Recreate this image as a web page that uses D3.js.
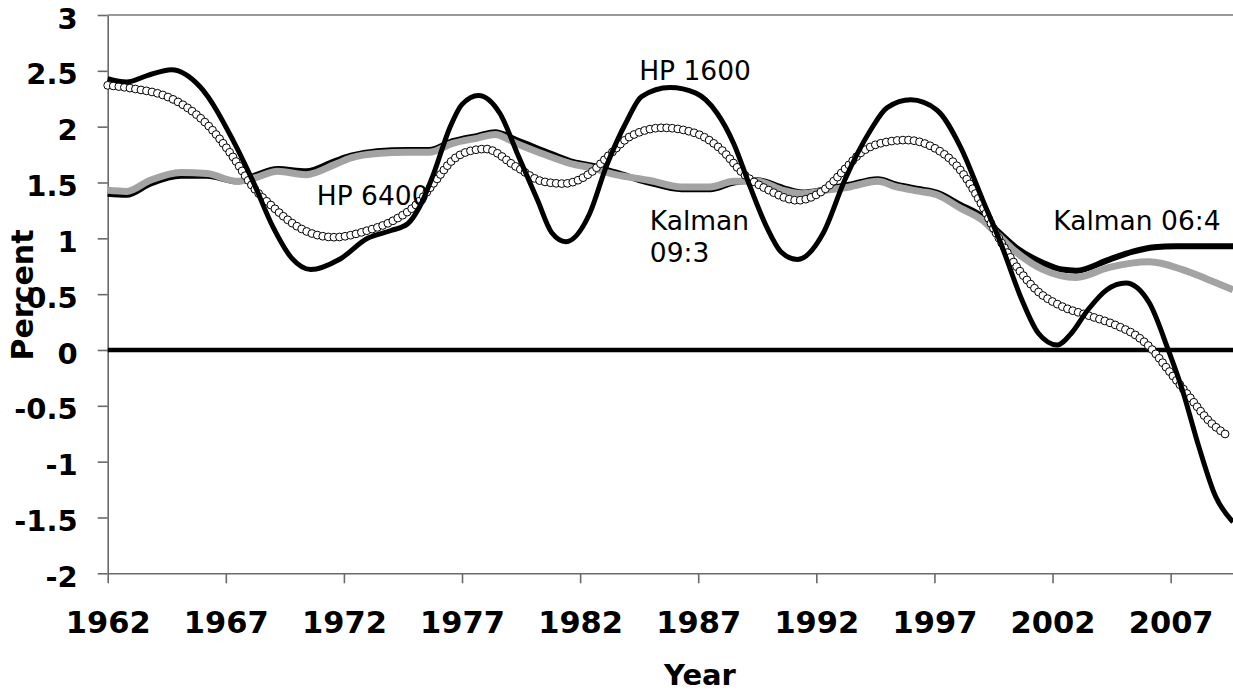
<!DOCTYPE html>
<html>
<head>
<meta charset="utf-8">
<script src="https://cdn.jsdelivr.net/npm/d3@7"></script>
<style>
  body { margin: 0; background: #fff; }
  text { font-family: "DejaVu Sans", Verdana, sans-serif; }
</style>
</head>
<body>
<script>
// values (year, percent)
const hp1600Years = [1962.0, 1962.8, 1963.7, 1964.7, 1965.9, 1967.3, 1968.15, 1969.0, 1969.8, 1970.6, 1971.8, 1973.0, 1974.0, 1974.7, 1975.2, 1975.8, 1976.5, 1977.0, 1977.7, 1978.6, 1979.4, 1980.2, 1980.8, 1981.4, 1982.4, 1983.1, 1984.0, 1984.6, 1985.8, 1986.9, 1987.8, 1988.5, 1989.2, 1989.9, 1990.5, 1991.2, 1992.3, 1993.2, 1994.3, 1995.0, 1996.0, 1997.1, 1998.1, 1999.05, 1999.8, 2000.7, 2001.4, 2002.2, 2002.8, 2003.5, 2004.3, 2005.1, 2006.1, 2006.9, 2007.5, 2008.2, 2008.9, 2009.64]
const hp1600 = [2.43, 2.40, 2.46, 2.51, 2.36, 1.88, 1.51, 1.10, 0.82, 0.72, 0.81, 1.00, 1.07, 1.13, 1.28, 1.58, 2.00, 2.20, 2.28, 2.12, 1.73, 1.34, 1.05, 0.97, 1.22, 1.64, 2.06, 2.27, 2.35, 2.30, 2.12, 1.85, 1.46, 1.10, 0.88, 0.81, 1.05, 1.52, 1.97, 2.17, 2.24, 2.15, 1.82, 1.34, 0.96, 0.45, 0.15, 0.045, 0.15, 0.36, 0.54, 0.60, 0.42, 0.0, -0.36, -0.87, -1.31, -1.54]

const hp6400Years = [1962.0, 1963.1, 1964.5, 1965.3, 1966.3, 1967.3, 1968.15, 1969.0, 1969.85, 1970.85, 1971.6, 1973.0, 1974.1, 1975.1, 1975.9, 1976.6, 1977.3, 1978.0, 1979.3, 1980.4, 1981.3, 1982.4, 1983.3, 1984.1, 1985.5, 1986.9, 1988.0, 1988.9, 1990.0, 1991.2, 1992.3, 1993.3, 1993.85, 1994.7, 1995.8, 1996.9, 1998.1, 1998.9, 1999.6, 2000.5, 2001.3, 2002.4, 2003.5, 2004.7, 2005.6, 2006.1, 2006.9, 2007.8, 2008.6, 2009.5]
const hp6400 = [2.37, 2.34, 2.27, 2.18, 2.00, 1.73, 1.46, 1.28, 1.13, 1.03, 1.01, 1.07, 1.16, 1.31, 1.52, 1.70, 1.78, 1.80, 1.64, 1.51, 1.49, 1.58, 1.76, 1.91, 1.99, 1.94, 1.79, 1.58, 1.43, 1.34, 1.43, 1.64, 1.76, 1.85, 1.88, 1.82, 1.61, 1.34, 1.05, 0.74, 0.54, 0.39, 0.31, 0.22, 0.12, 0.03, -0.18, -0.42, -0.63, -0.78]

const kalman093Years = [1962.0, 1962.8, 1963.8, 1965.1, 1966.2, 1967.5, 1968.2, 1969.2, 1970.4, 1971.6, 1972.3, 1973.4, 1974.7, 1975.6, 1976.6, 1977.7, 1978.4, 1979.3, 1980.5, 1981.6, 1982.5, 1983.5, 1984.9, 1986.3, 1987.5, 1988.5, 1989.5, 1990.6, 1991.4, 1992.4, 1993.4, 1994.6, 1995.4, 1996.4, 1997.1, 1998.1, 1999.05, 1999.6, 2000.5, 2001.6, 2003.0, 2004.4, 2006.1, 2007.5, 2008.6, 2009.64]
const kalman093 = [1.43, 1.42, 1.52, 1.59, 1.58, 1.51, 1.54, 1.60, 1.57, 1.66, 1.72, 1.76, 1.77, 1.77, 1.85, 1.90, 1.93, 1.85, 1.75, 1.67, 1.63, 1.57, 1.52, 1.46, 1.46, 1.51, 1.51, 1.43, 1.40, 1.43, 1.46, 1.51, 1.46, 1.42, 1.39, 1.27, 1.16, 1.05, 0.87, 0.72, 0.65, 0.74, 0.79, 0.72, 0.63, 0.54]

const kalman064Years = [1962.0, 1962.8, 1963.8, 1965.1, 1966.2, 1967.5, 1968.2, 1969.2, 1970.4, 1971.6, 1972.3, 1973.4, 1974.7, 1975.6, 1976.6, 1977.7, 1978.4, 1979.3, 1980.5, 1981.6, 1982.5, 1983.5, 1984.9, 1986.3, 1987.5, 1988.5, 1989.5, 1990.6, 1991.4, 1992.4, 1993.4, 1994.6, 1995.4, 1996.4, 1997.1, 1998.1, 1999.05, 1999.6, 2000.5, 2001.6, 2002.4, 2003.0, 2004.4, 2005.4, 2006.3, 2007.2, 2008.5, 2009.64]
const kalman064 = [1.40, 1.39, 1.49, 1.56, 1.56, 1.51, 1.56, 1.62, 1.60, 1.69, 1.74, 1.78, 1.79, 1.79, 1.87, 1.92, 1.95, 1.88, 1.78, 1.69, 1.65, 1.59, 1.50, 1.44, 1.44, 1.50, 1.52, 1.45, 1.41, 1.44, 1.48, 1.53, 1.48, 1.44, 1.41, 1.30, 1.19, 1.08, 0.91, 0.78, 0.72, 0.71, 0.81, 0.88, 0.92, 0.93, 0.93, 0.93]

const zeroYears = [1962, 2009.64]
const zero = [0, 0]

const yTicks = [3, 2.5, 2, 1.5, 1, 0.5, 0, -0.5, -1, -1.5, -2]
const yTickLabels = ["3", "2.5", "2", "1.5", "1", "0.5", "0", "-0.5", "-1", "-1.5", "-2"]
const xTicks = [1962, 1967, 1972, 1977, 1982, 1987, 1992, 1997, 2002, 2007]
const xTickLabels = ["1962", "1967", "1972", "1977", "1982", "1987", "1992", "1997", "2002", "2007"]

const width = 1233
const height = 694

const svg = d3.select("body")
    .append("svg")
    .attr("width", width)
    .attr("height", height)

const x = d3.scaleLinear().domain([1962, 2009.64]).range([107.7, 1233])
const y = d3.scaleLinear().domain([-2, 3]).range([573.3, 15])

const pts = (xs, vs) => xs.map((d, i) => [d, vs[i]])
const line = d3.line()
    .x(d => x(d[0]))
    .y(d => y(d[1]))
    .curve(d3.curveMonotoneX)

// top border of the plot area
svg.append("line")
    .attr("x1", x(1962)).attr("x2", width)
    .attr("y1", y(3)).attr("y2", y(3))
    .attr("stroke", "#9a9a9a")
    .attr("stroke-width", 2)

// axes
const yAxis = svg.append("g")
    .attr("transform", `translate(${x(1962)},0)`)
    .call(d3.axisLeft(y).tickValues(yTicks).tickFormat((d, i) => yTickLabels[i])
        .tickSize(10).tickPadding(20).tickSizeOuter(0))
yAxis.selectAll("text")
    .attr("dy", "0.45em")
    .style("font-size", "29px")
    .style("font-weight", "bold")
    .attr("fill", "#000")

const xAxis = svg.append("g")
    .attr("transform", `translate(0,${y(-2)})`)
    .call(d3.axisBottom(x).tickValues(xTicks).tickFormat((d, i) => xTickLabels[i])
        .tickSize(10).tickSizeOuter(0))
xAxis.selectAll("text")
    .attr("y", 60)
    .attr("dy", 0)
    .style("font-size", "30.5px")
    .style("font-weight", "bold")
    .attr("fill", "#000")

svg.selectAll(".domain, .tick line")
    .attr("stroke", "#6a6a6a")
    .attr("stroke-width", 1.6)

// zero line
svg.append("path")
    .attr("d", line(pts(zeroYears, zero)))
    .attr("fill", "none")
    .attr("stroke", "#000")
    .attr("stroke-width", 4.5)

// Kalman 06:4 (black, mostly under the grey one)
svg.append("path")
    .attr("d", line(pts(kalman064Years, kalman064)))
    .attr("fill", "none")
    .attr("stroke", "#000")
    .attr("stroke-width", 6)

// Kalman 09:3 (grey)
svg.append("path")
    .attr("d", line(pts(kalman093Years, kalman093)))
    .attr("fill", "none")
    .attr("stroke", "#a3a3a3")
    .attr("stroke-width", 7)

// HP 6400 (chain of hollow circles along the curve)
const hp6400Path = svg.append("path")
    .attr("d", line(pts(hp6400Years, hp6400)))
    .attr("fill", "none")
    .attr("stroke", "none")
const node = hp6400Path.node()
const total = node.getTotalLength()
const beads = d3.range(0, total, 5.6).map(l => node.getPointAtLength(l))
svg.append("g")
    .selectAll("circle")
    .data(beads)
    .enter()
    .append("circle")
    .attr("cx", d => d.x)
    .attr("cy", d => d.y)
    .attr("r", 3.9)
    .attr("fill", "#fff")
    .attr("stroke", "#000")
    .attr("stroke-width", 1)

// HP 1600
svg.append("path")
    .attr("d", line(pts(hp1600Years, hp1600)))
    .attr("fill", "none")
    .attr("stroke", "#000")
    .attr("stroke-width", 5)

// annotations
const note = (t, xv, yv) => svg.append("text")
    .attr("x", x(xv))
    .attr("y", y(yv))
    .style("font-size", "26.5px")
    .attr("fill", "#000")
    .text(t)
note("HP 1600", 1984.5, 2.417)
note("HP 6400", 1970.85, 1.30)
note("Kalman", 1984.95, 1.075)
note("09:3", 1984.95, 0.788)
note("Kalman 06:4", 2002.03, 1.075)

// axis titles
svg.append("text")
    .attr("x", 700)
    .attr("y", 685)
    .attr("text-anchor", "middle")
    .style("font-size", "29px")
    .style("font-weight", "bold")
    .text("Year")

svg.append("text")
    .attr("transform", "translate(33,295) rotate(-90)")
    .attr("text-anchor", "middle")
    .style("font-size", "30px")
    .style("font-weight", "bold")
    .text("Percent")
</script>
</body>
</html>
